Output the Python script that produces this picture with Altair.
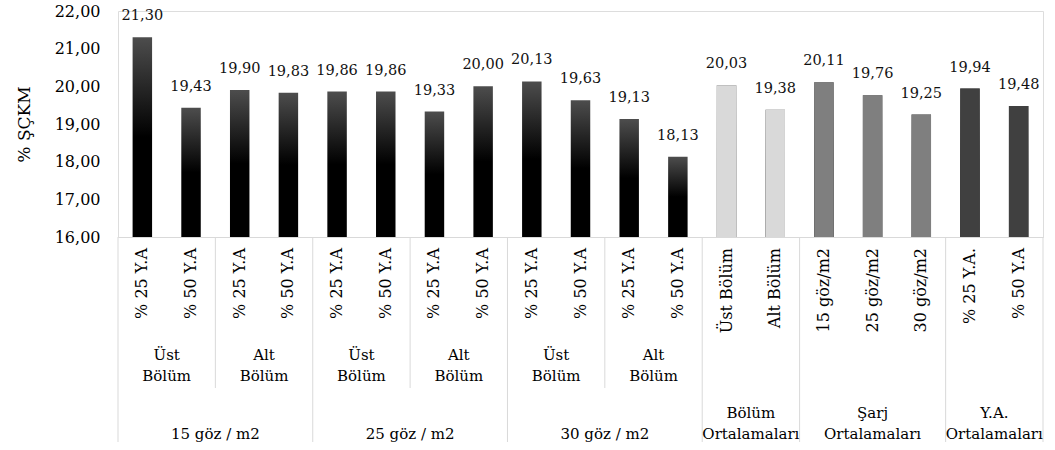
import altair as alt
import pandas as pd

# Bar values (% ŞÇKM) in display order
values = [21.30, 19.43, 19.90, 19.83, 19.86, 19.86, 19.33, 20.00, 20.13, 19.63,
          19.13, 18.13, 20.03, 19.38, 20.11, 19.76, 19.25, 19.94, 19.48]

# First-level category labels (rotated, one per bar)
bar_labels = ["% 25 Y.A", "% 50 Y.A"] * 6 + [
    "Üst Bölüm", "Alt Bölüm", "15 göz/m2", "25 göz/m2", "30 göz/m2",
    "% 25 Y.A.", "% 50 Y.A"]

# Fill style per bar
styles = ["gradient"] * 12 + ["bolum"] * 2 + ["sarj"] * 3 + ["ya"] * 2
style_names = ["gradient", "bolum", "sarj", "ya"]
style_colors = ["rgba(0,0,0,0)", "#d9d9d9", "#7f7f7f", "#404040"]

# Second-level groups: (first bar, last bar + 1, label)
level2 = [(0, 2, "Üst\nBölüm"), (2, 4, "Alt\nBölüm"),
          (4, 6, "Üst\nBölüm"), (6, 8, "Alt\nBölüm"),
          (8, 10, "Üst\nBölüm"), (10, 12, "Alt\nBölüm")]

# Third-level groups, one-line and two-line
level3_single = [(0, 4, "15 göz / m2"), (4, 8, "25 göz / m2"), (8, 12, "30 göz / m2")]
level3_double = [(12, 14, "Bölüm\nOrtalamaları"), (14, 17, "Şarj\nOrtalamaları"),
                 (17, 19, "Y.A.\nOrtalamaları")]

# Separator lines between groups on the category axis
short_seps = [2, 6, 10]
long_seps = [0, 4, 8, 12, 14, 17, 19]

y_ticks = [16, 17, 18, 19, 20, 21, 22]

FONT = "DejaVu Serif"
W, H = 925, 226
N = len(values)
BAR_HALF = 0.2  # half bar width, in category units

bars = pd.DataFrame({"idx": list(range(N)), "value": values,
                     "label": bar_labels, "style": styles})
grp2 = pd.DataFrame(level2, columns=["start", "end", "text"])
grp3a = pd.DataFrame(level3_single, columns=["start", "end", "text"])
grp3b = pd.DataFrame(level3_double, columns=["start", "end", "text"])
sep_short = pd.DataFrame({"pos": short_seps})
sep_long = pd.DataFrame({"pos": long_seps})

x_scale = alt.Scale(domain=[0, N], nice=False, zero=False)
x_axis = alt.Axis(labels=False, ticks=False, title=None, grid=False,
                  domainColor="#d9d9d9", domainWidth=1)
y_scale = alt.Scale(domain=[16, 22], nice=False, zero=False)
y_axis = alt.Axis(values=y_ticks, title="% ŞÇKM", grid=False,
                  domain=False, ticks=False, labelPadding=18,
                  labelExpr="replace(format(datum.value, '.2f'), '.', ',')",
                  labelFont=FONT, labelFontSize=16, labelColor="#000",
                  titleFont=FONT, titleFontSize=17, titleFontWeight="normal",
                  titleColor="#000", titlePadding=21)


def xq(field):
    return alt.X(f"{field}:Q", scale=x_scale, axis=x_axis)


y_enc = alt.Y("value:Q", scale=y_scale, axis=y_axis)

gradient = alt.Gradient(
    gradient="linear", x1=0, x2=0, y1=0, y2=1,
    stops=[alt.GradientStop(color="#4d4d4d", offset=0),
           alt.GradientStop(color="#000000", offset=0.5),
           alt.GradientStop(color="#000000", offset=1)])

base = alt.Chart(bars).transform_calculate(
    left=f"datum.idx + 0.5 - {BAR_HALF}",
    right=f"datum.idx + 0.5 + {BAR_HALF}",
    center="datum.idx + 0.5",
    txt="replace(format(datum.value, '.2f'), '.', ',')",
)

# Gradient fill under every bar; solid fills cover it for the summary groups
grad_bars = base.mark_bar(color=gradient).encode(
    x=xq("left"), x2="right:Q", y=y_enc, y2=alt.datum(16))

solid_bars = base.mark_bar().encode(
    x=xq("left"), x2="right:Q", y=y_enc, y2=alt.datum(16),
    color=alt.Color("style:N", legend=None,
                    scale=alt.Scale(domain=style_names, range=style_colors)))

value_labels = base.mark_text(font=FONT, fontSize=14.5, color="#111",
                              baseline="middle", dy=-21).encode(
    x=xq("center"), y=y_enc, text="txt:N")

rot_labels = base.mark_text(font=FONT, fontSize=16, color="#000", angle=270,
                            align="right", baseline="middle").encode(
    x=xq("center"), y=alt.value(237), text="label:N")

lvl2 = alt.Chart(grp2).transform_calculate(mid="(datum.start + datum.end) / 2").mark_text(
    font=FONT, fontSize=15, color="#000", align="center", baseline="bottom",
    lineBreak="\n", lineHeight=21).encode(
    x=xq("mid"), y=alt.value(352), text="text:N")

lvl3a = alt.Chart(grp3a).transform_calculate(mid="(datum.start + datum.end) / 2").mark_text(
    font=FONT, fontSize=15, color="#000", align="center", baseline="bottom").encode(
    x=xq("mid"), y=alt.value(431), text="text:N")

lvl3b = alt.Chart(grp3b).transform_calculate(mid="(datum.start + datum.end) / 2").mark_text(
    font=FONT, fontSize=15, color="#000", align="center", baseline="bottom",
    lineBreak="\n", lineHeight=21).encode(
    x=xq("mid"), y=alt.value(410), text="text:N")

rules_short = alt.Chart(sep_short).mark_rule(color="#d9d9d9", strokeWidth=1).encode(
    x=xq("pos"), y=alt.value(H), y2=alt.value(377))

rules_long = alt.Chart(sep_long).mark_rule(color="#d9d9d9", strokeWidth=1).encode(
    x=xq("pos"), y=alt.value(H), y2=alt.value(431))

chart = alt.layer(
    rules_short, rules_long, grad_bars, solid_bars, value_labels,
    rot_labels, lvl2, lvl3a, lvl3b
).properties(
    width=W, height=H,
    autosize=alt.AutoSizeParams(type="none"),
    padding={"left": 118, "top": 11, "right": 12, "bottom": 213},
).configure_view(stroke=None).configure(background="white")

chart.save("out.html", embed_options={"renderer": "svg", "actions": False})
